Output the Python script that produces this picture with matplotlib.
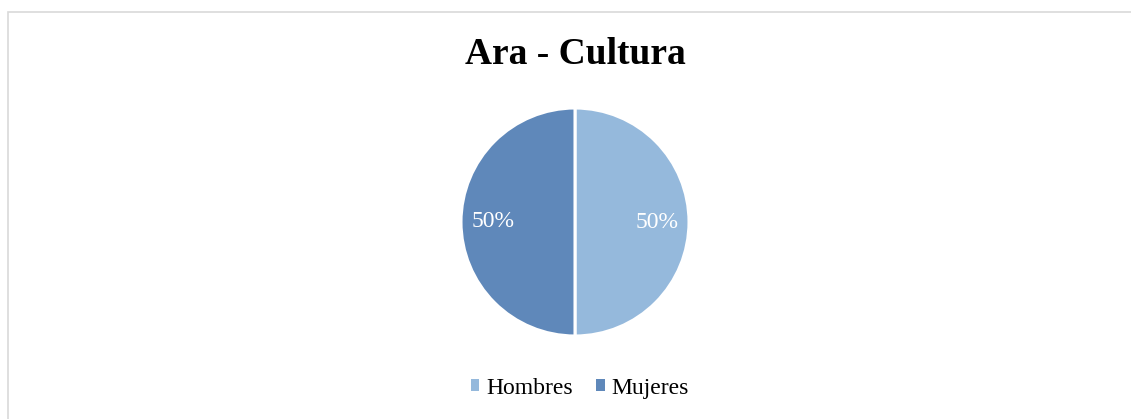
import matplotlib
matplotlib.use('Agg')
import matplotlib.pyplot as plt
from matplotlib.patches import Rectangle

# datos
categorias = ['Hombres', 'Mujeres']
valores = [50, 50]
colores = ['#95B9DC', '#5F88BA']

plt.rcParams['font.family'] = ['Liberation Serif', 'DejaVu Serif']

fig = plt.figure(figsize=(11.31, 4.19), dpi=100)

# marco gris del grafico
fig.patches.append(Rectangle((8 / 1131, -0.1), 1.2, 1 - 12 / 419 + 0.1,
                             transform=fig.transFigure, fill=False,
                             edgecolor='#D9D9D9', linewidth=1.2))

fig.text(575 / 1131, 1 - 55 / 419, 'Ara - Cultura', ha='center', va='center',
         fontsize=27, fontweight='bold')

r = 114
cx, cy = 575, 222
ax = fig.add_axes([(cx - r) / 1131, 1 - (cy + r) / 419, 2 * r / 1131, 2 * r / 419])
wedges, textos, pct = ax.pie(valores, colors=colores, startangle=90, counterclock=False,
                             autopct='%1.0f%%', pctdistance=0.72,
                             wedgeprops=dict(edgecolor='white', linewidth=2.2),
                             textprops=dict(color='white', fontsize=17))
ax.set_xlim(-1, 1)
ax.set_ylim(-1, 1)
ax.set_aspect('equal')

leg = fig.legend(wedges, categorias, loc='center', bbox_to_anchor=(580 / 1131, 1 - 388 / 419),
                 ncol=2, frameon=False, fontsize=17, handlelength=0.35, handleheight=0.35,
                 handletextpad=0.3, columnspacing=1.0)
for h in leg.legend_handles:
    h.set_edgecolor('none')
    h.set_linewidth(0)

plt.savefig('out.png', dpi=100)
